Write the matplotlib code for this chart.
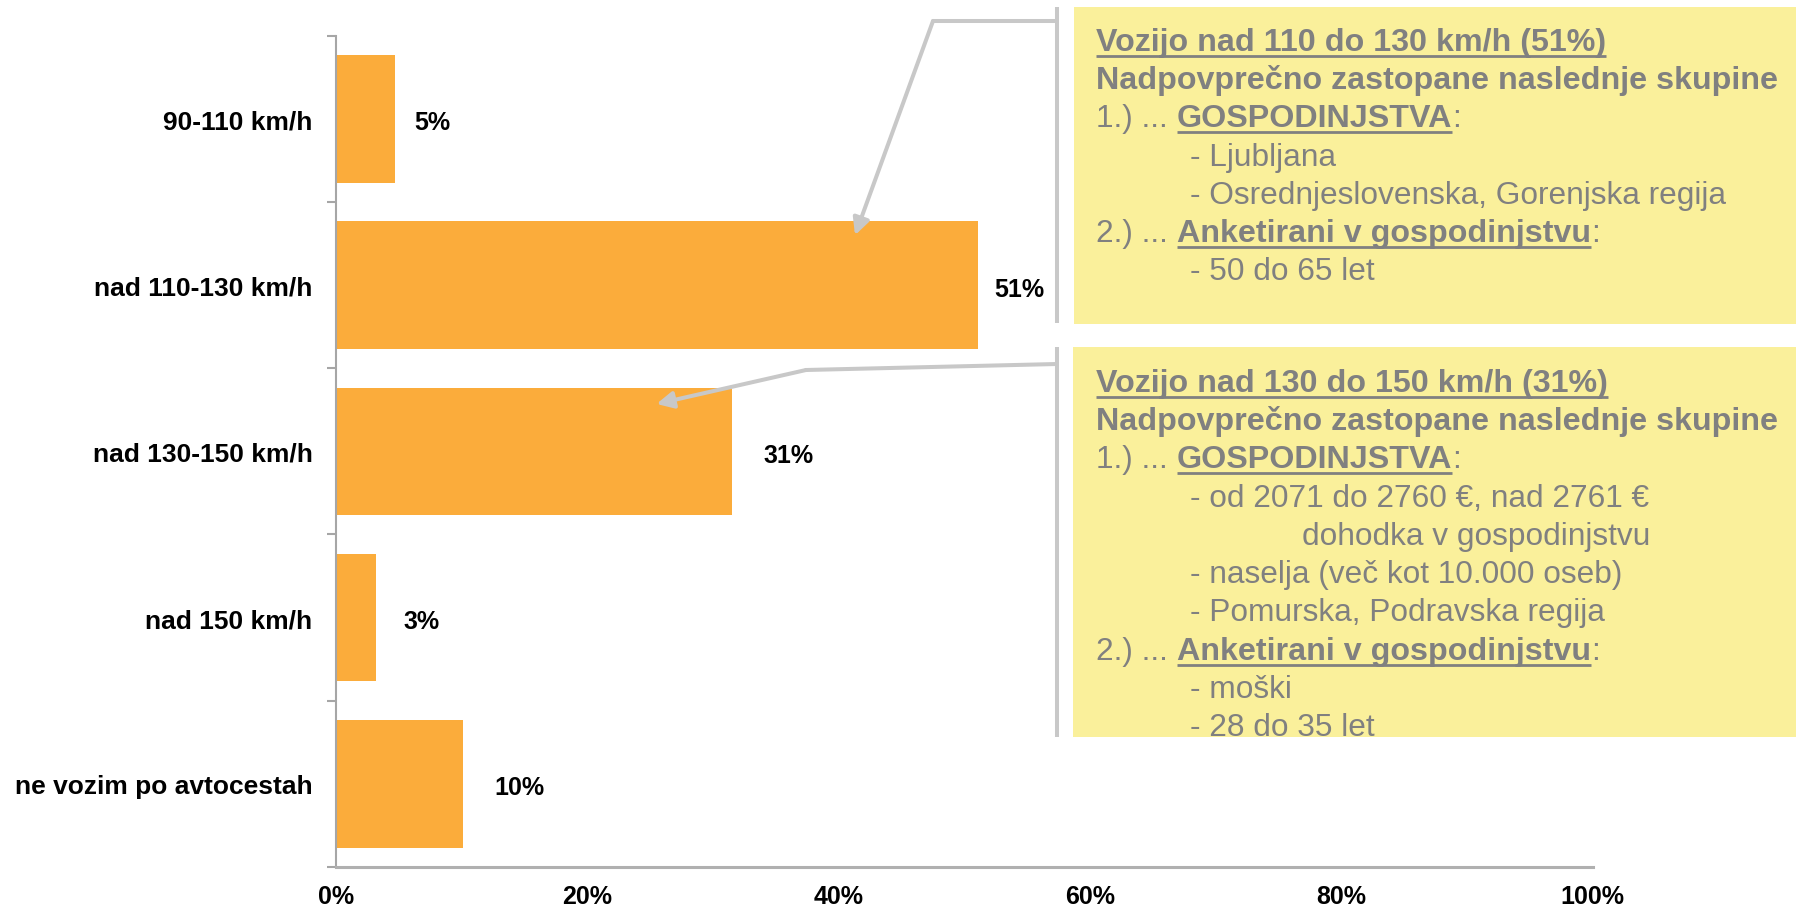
import matplotlib.pyplot as plt
import numpy as np
from matplotlib.patches import Rectangle

plt.rcParams['font.family'] = ['Liberation Sans', 'DejaVu Sans']

# data
categories = ['90-110 km/h', 'nad 110-130 km/h', 'nad 130-150 km/h',
              'nad 150 km/h', 'ne vozim po avtocestah']
shares = [4.7, 51.1, 31.5, 3.2, 10.1]
share_labels = ['5%', '51%', '31%', '3%', '10%']
x_ticks = [0, 20, 40, 60, 80, 100]
x_tick_labels = ['0%', '20%', '40%', '60%', '80%', '100%']

# callout texts: (indent level, [(text, style)]) ; style n=normal, b=bold, u=underline
box1_lines = [
    (0, [('Vozijo nad 110 do 130 km/h (51%)', 'bu')]),
    (0, [('Nadpovprečno zastopane naslednje skupine', 'b')]),
    (0, [('1.) ...', 'n'), (' GOSPODINJSTVA', 'bu'), (':', 'n')]),
    (1, [('- Ljubljana', 'n')]),
    (1, [('- Osrednjeslovenska, Gorenjska regija', 'n')]),
    (0, [('2.) ...', 'n'), (' Anketirani v gospodinjstvu', 'bu'), (':', 'n')]),
    (1, [('- 50 do 65 let', 'n')]),
]
box2_lines = [
    (0, [('Vozijo nad 130 do 150 km/h (31%)', 'bu')]),
    (0, [('Nadpovprečno zastopane naslednje skupine', 'b')]),
    (0, [('1.) ...', 'n'), (' GOSPODINJSTVA', 'bu'), (':', 'n')]),
    (1, [('- od 2071 do 2760 €, nad 2761 €', 'n')]),
    (2, [('dohodka v gospodinjstvu', 'n')]),
    (1, [('- naselja (več kot 10.000 oseb)', 'n')]),
    (1, [('- Pomurska, Podravska regija', 'n')]),
    (0, [('2.) ...', 'n'), (' Anketirani v gospodinjstvu', 'bu'), (':', 'n')]),
    (1, [('- moški', 'n')]),
    (1, [('- 28 do 35 let', 'n')]),
]

# styling
W, H = 1796, 912
bar_color = '#FBAC3B'
box_fill = '#FAF09B'
box_text = '#808080'
line_gray = '#C8C8C8'
label_pad_px = [19, 16, 32, 27, 31]

fig = plt.figure(figsize=(W / 100, H / 100), dpi=100)
ax = fig.add_axes([336 / W, 1 - 868 / H, (1592.7 - 336) / W, (868 - 36.7) / H])

y = np.arange(len(categories))
ax.barh(y, shares, height=0.766, color=bar_color, zorder=2)
ax.set_xlim(0, 100)
ax.set_ylim(len(categories) - 0.5, -0.5)

ax.set_yticks(y, categories, fontsize=19, fontweight='bold')
ax.set_yticks(np.arange(-0.5, len(categories), 1), minor=True)
ax.tick_params(axis='y', which='major', length=0, pad=17)
ax.tick_params(axis='y', which='minor', length=6.5, width=1.5, color='#A6A6A6')
ax.set_xticks(x_ticks, x_tick_labels, fontsize=18, fontweight='bold')
ax.tick_params(axis='x', length=0, pad=12.4)

for s in ['top', 'right']:
    ax.spines[s].set_visible(False)
ax.spines['left'].set_color('#A6A6A6')
ax.spines['left'].set_linewidth(1.5)
ax.spines['bottom'].set_color('#B0B0B0')
ax.spines['bottom'].set_linewidth(2.2)

for i, (v, lbl) in enumerate(zip(shares, share_labels)):
    ax.annotate(lbl, xy=(v, i), xytext=(label_pad_px[i] * 0.72, -2.5),
                textcoords='offset points', ha='left', va='center',
                fontsize=18, fontweight='bold', color='black')

# overlay in image pixels (y down)
over = fig.add_axes([0, 0, 1, 1], zorder=5)
over.set_xlim(0, W)
over.set_ylim(H, 0)
over.axis('off')
over.patch.set_visible(False)

over.add_patch(Rectangle((1074, 8), W - 1074, 317, facecolor=box_fill, edgecolor='none'))
over.add_patch(Rectangle((1073, 348), W - 1073, 390, facecolor=box_fill, edgecolor='none'))
over.plot([1057, 1057], [8, 324], color=line_gray, lw=2.9, solid_capstyle='butt')
over.plot([1057, 1057], [348, 738], color=line_gray, lw=2.9, solid_capstyle='butt')


def to_over(xd, yd):
    px, py = ax.transData.transform((xd, yd))
    return px, H - py


def connector(start, elbow, tip_data):
    tip = to_over(*tip_data)
    over.plot([start[0], elbow[0]], [start[1], elbow[1]], color=line_gray, lw=2.9,
              solid_capstyle='round')
    over.annotate('', xy=tip, xytext=elbow,
                  arrowprops=dict(arrowstyle='-|>,head_length=1.0,head_width=0.5',
                                  color=line_gray, lw=2.9, shrinkA=0, shrinkB=0))


connector((1057, 22), (933, 22), (41.3, 0.70))
connector((1057, 365), (806, 371), (25.5, 1.715))

renderer = fig.canvas.get_renderer()
box_fs = {'n': 22.8, 'b': 23.2}
indent_x = [1096, 1190, 1302]
line_step = 38.3


def text_w(s, weight, size):
    t = over.text(0, 0, s, fontsize=size, fontweight=weight)
    w = t.get_window_extent(renderer).width
    t.remove()
    return w


space_w = {
    'n': text_w('a a', 'normal', box_fs['n']) - text_w('aa', 'normal', box_fs['n']),
    'b': text_w('a a', 'bold', box_fs['b']) - text_w('aa', 'bold', box_fs['b']),
}


def draw_box(lines, first_baseline):
    for k, (indent, parts) in enumerate(lines):
        yb = first_baseline + k * line_step
        x = indent_x[indent]
        for text, style in parts:
            lead = len(text) - len(text.lstrip(' '))
            x += lead * space_w[style[0]]
            weight = 'bold' if 'b' in style else 'normal'
            t = over.text(x, yb, text.lstrip(' '), fontsize=box_fs[style[0]], fontweight=weight,
                          color=box_text, ha='left', va='baseline', zorder=4)
            bb = t.get_window_extent(renderer)
            if 'u' in style:
                over.plot([bb.x0, bb.x1], [yb + 6, yb + 6], color=box_text, lw=2,
                          solid_capstyle='butt', zorder=4)
            x = bb.x1


draw_box(box1_lines, 50.7)
draw_box(box2_lines, 391.7)

fig.savefig('out.png', dpi=100)
